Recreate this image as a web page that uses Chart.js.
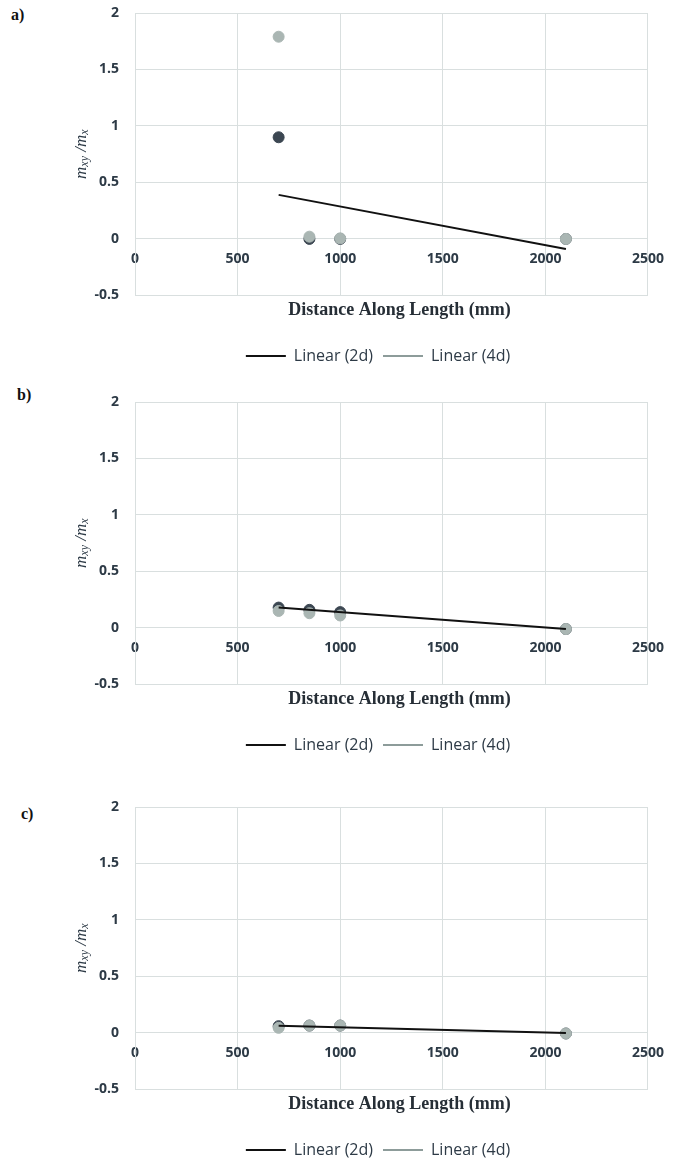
<!DOCTYPE html>
<html>
<head>
<meta charset="utf-8">
<title>mxy/mx vs distance</title>
<script src="https://cdn.jsdelivr.net/npm/chart.js@4.4.1/dist/chart.umd.min.js"></script>
<style>
    html, body { margin: 0; padding: 0; background: #fff; width: 676px; height: 1162px; overflow: hidden; }
    .panel { position: absolute; left: 0; width: 676px; }
    .tag { position: absolute; font: bold 16px "Liberation Serif", serif; color: #111; }
</style>
</head>
<body>
<div class="tag" style="left:11px; top:6px;">a)</div>
<div class="tag" style="left:17px; top:386px;">b)</div>
<div class="tag" style="left:21px; top:805px;">c)</div>

<div class="panel" style="top:0px; height:380px;"><canvas id="grafico-a"></canvas></div>
<div class="panel" style="top:389px; height:380px;"><canvas id="grafico-b"></canvas></div>
<div class="panel" style="top:794px; height:380px;"><canvas id="grafico-c"></canvas></div>

<script>
// x positions of the measured points (mm)
const distances = [700, 850, 1000, 2100];
// trend line end points (mm)
const trendX = [700, 2100];

// a)
const a2d = [0.90, 0.0, 0.0, 0.0];
const a4d = [1.79, 0.02, 0.005, 0.0];
const aTrend2d = [0.39, -0.09];

// b)
const b2d = [0.18, 0.16, 0.14, -0.01];
const b4d = [0.15, 0.13, 0.11, -0.01];
const bTrend2d = [0.18, -0.01];

// c)
const c2d = [0.06, 0.065, 0.065, -0.005];
const c4d = [0.045, 0.065, 0.065, -0.005];
const cTrend2d = [0.063, 0.0];

// axis ticks
const xTicks = [0, 500, 1000, 1500, 2000, 2500];
const yTicks = [-0.5, 0, 0.5, 1, 1.5, 2];

const legendLabels = ['Linear (2d)', 'Linear (4d)'];
const xTitle = 'Distance Along Length (mm)';

const gridColor = '#d9dfdf';
const textColor = '#2d3a46';

const toPoints = (xs, ys) => xs.map((x, i) => ({ x: x, y: ys[i] }));
const fixTicks = values => scale => { scale.ticks = values.map(v => ({ value: v })); };

// y title with subscripts: m_xy / m_x
const yTitlePlugin = {
    id: 'yTitle',
    afterDraw(chart) {
        const { ctx, chartArea } = chart;
        const parts = [
            ['m', 17, 0], ['xy', 12, 3], [' /', 17, 0], ['m', 17, 0], ['x', 12, 3]
        ];
        ctx.save();
        ctx.translate(82, (chartArea.top + chartArea.bottom) / 2);
        ctx.rotate(-Math.PI / 2);
        ctx.fillStyle = textColor;
        ctx.textBaseline = 'middle';
        ctx.textAlign = 'left';
        let total = 0;
        parts.forEach(p => {
            ctx.font = 'italic ' + p[1] + 'px "Liberation Serif", serif';
            total += ctx.measureText(p[0]).width;
        });
        let x = -total / 2;
        parts.forEach(p => {
            ctx.font = 'italic ' + p[1] + 'px "Liberation Serif", serif';
            ctx.fillText(p[0], x, p[2]);
            x += ctx.measureText(p[0]).width;
        });
        ctx.restore();
    }
};

// legend and x title sit a bit right of centre, as in the original
const shiftPlugin = {
    id: 'shiftBoxes',
    afterLayout(chart) {
        chart.legend.left += 12;
        chart.legend.right += 12;
        chart.scales.x.left += 8;
        chart.scales.x.right += 8;
    }
};

function crearGrafico(id, serie2d, serie4d, tendencia2d) {
    const ctx = document.getElementById(id);
    new Chart(ctx.getContext('2d'), {
        type: 'scatter',
        data: {
            datasets: [
                {
                    label: legendLabels[0],
                    data: toPoints(trendX, tendencia2d),
                    showLine: true,
                    borderColor: '#111111',
                    backgroundColor: '#111111',
                    borderWidth: 2,
                    pointRadius: 0,
                    order: 0
                },
                {
                    label: legendLabels[1],
                    data: [],
                    showLine: true,
                    borderColor: '#8d9c9a',
                    backgroundColor: '#8d9c9a',
                    borderWidth: 2,
                    pointRadius: 0,
                    order: 0
                },
                {
                    label: '4d',
                    data: toPoints(distances, serie4d),
                    backgroundColor: '#aab6b3',
                    borderColor: '#aab6b3',
                    pointRadius: 5.5,
                    order: 1
                },
                {
                    label: '2d',
                    data: toPoints(distances, serie2d),
                    backgroundColor: '#3c4752',
                    borderColor: '#3c4752',
                    pointRadius: 5.5,
                    order: 2
                }
            ]
        },
        options: {
            responsive: true,
            maintainAspectRatio: false,
            animation: false,
            layout: {
                padding: { top: 13, left: 75, right: 19, bottom: 6 }
            },
            scales: {
                x: {
                    type: 'linear',
                    position: 'bottom',
                    min: xTicks[0],
                    max: xTicks[xTicks.length - 1],
                    afterBuildTicks: fixTicks(xTicks),
                    grid: { color: gridColor, drawTicks: false },
                    border: { display: false },
                    ticks: { display: false },
                    title: {
                        display: true,
                        text: xTitle,
                        color: '#262e36',
                        font: { family: '"Liberation Serif", serif', size: 18, weight: 'bold' },
                        padding: { top: 4, bottom: 17 }
                    }
                },
                x2: {
                    type: 'linear',
                    axis: 'x',
                    position: { y: 0 },
                    min: xTicks[0],
                    max: xTicks[xTicks.length - 1],
                    afterBuildTicks: fixTicks(xTicks),
                    grid: { display: false, drawTicks: false },
                    border: { display: false },
                    ticks: {
                        padding: 12,
                        color: textColor,
                        font: { family: '"Open Sans", sans-serif', size: 14, weight: 'bold' },
                        callback: v => String(v)
                    }
                },
                y: {
                    type: 'linear',
                    position: 'left',
                    min: yTicks[0],
                    max: yTicks[yTicks.length - 1],
                    afterBuildTicks: fixTicks(yTicks),
                    afterFit: scale => { scale.width = 60; },
                    grid: { color: gridColor, drawTicks: true, tickLength: 16, tickColor: 'rgba(0,0,0,0)' },
                    border: { color: gridColor },
                    ticks: {
                        padding: 0,
                        color: textColor,
                        font: { family: '"Open Sans", sans-serif', size: 14, weight: 'bold' },
                        callback: v => String(v)
                    }
                }
            },
            plugins: {
                legend: {
                    display: true,
                    position: 'bottom',
                    labels: {
                        color: textColor,
                        font: { family: '"Open Sans", sans-serif', size: 16 },
                        boxWidth: 40,
                        boxHeight: 2,
                        padding: 10,
                        generateLabels: chart => chart.data.datasets
                            .map((ds, i) => ({
                                text: ds.label,
                                fillStyle: ds.borderColor,
                                strokeStyle: ds.borderColor,
                                lineWidth: 0,
                                hidden: false,
                                datasetIndex: i,
                                fontColor: textColor
                            }))
                            .filter(item => legendLabels.includes(item.text))
                    }
                },
                title: { display: false },
                tooltip: { enabled: false }
            }
        },
        plugins: [yTitlePlugin, shiftPlugin]
    });
}

crearGrafico('grafico-a', a2d, a4d, aTrend2d);
crearGrafico('grafico-b', b2d, b4d, bTrend2d);
crearGrafico('grafico-c', c2d, c4d, cTrend2d);
</script>
</body>
</html>
